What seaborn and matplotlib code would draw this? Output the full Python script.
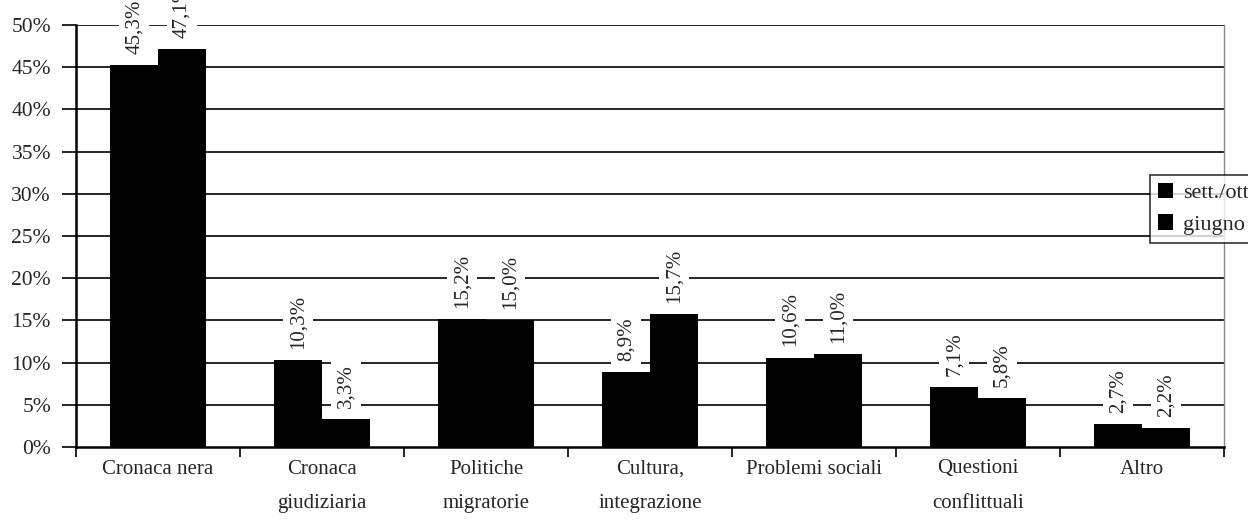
import matplotlib
matplotlib.use("Agg")
import matplotlib.pyplot as plt
import seaborn as sns
import pandas as pd
import numpy as np

categories = ["Cronaca nera", "Cronaca\ngiudiziaria", "Politiche\nmigratorie",
              "Cultura,\nintegrazione", "Problemi sociali", "Questioni\nconflittuali", "Altro"]
sett_ott = [45.3, 10.3, 15.2, 8.9, 10.6, 7.1, 2.7]
giugno = [47.1, 3.3, 15.0, 15.7, 11.0, 5.8, 2.2]
series_names = ["sett./ott.", "giugno"]
yticks = [0, 5, 10, 15, 20, 25, 30, 35, 40, 45, 50]

sns.set_style("white")
plt.rcParams['font.family'] = ['Liberation Serif', 'DejaVu Serif']

df = pd.DataFrame({
    "cat": categories * 2,
    "val": sett_ott + giugno,
    "period": [series_names[0]] * len(categories) + [series_names[1]] * len(categories),
})

fig = plt.figure(figsize=(12.48, 5.25), dpi=100)
ax = fig.add_axes([76/1248, 1 - 447/525, (1224 - 76)/1248, (447 - 25)/525])

sns.barplot(data=df, x="cat", y="val", hue="period", palette=["black", "black"],
            width=0.58, saturation=1, ax=ax, legend=True, gap=0, linewidth=0)

ax.set_ylim(0, 50)
ax.set_xlim(-0.5, len(categories) - 0.5)
ax.set_yticks(yticks)
ax.set_yticklabels([f"{v}%" for v in yticks], fontsize=15.5)
ax.set_xlabel("")
ax.set_ylabel("")
ax.set_axisbelow(True)
for v in yticks[1:]:
    ax.axhline(v, color="black", lw=1.2, zorder=0)

ax.tick_params(axis="y", direction="out", length=10, width=1.2, color="black", left=True, pad=8)
ax.set_xticks(range(len(categories)))
ax.set_xticklabels(categories, fontsize=15, va="top", linespacing=2.1)
ax.tick_params(axis="x", which="major", length=0, pad=9)
ax.set_xticks(np.arange(-0.5, len(categories), 1), minor=True)
ax.tick_params(axis="x", which="minor", direction="out", length=7, width=1.2, color="black", bottom=True)

for s in ["left", "bottom"]:
    ax.spines[s].set_color("black")
    ax.spines[s].set_linewidth(1.8)
ax.spines["top"].set_visible(False)
ax.spines["right"].set_color("#888888")
ax.spines["right"].set_linewidth(1)

# data labels
for container, vals in zip(ax.containers, [sett_ott, giugno]):
    for bar, v in zip(container, vals):
        x = bar.get_x() + bar.get_width() / 2
        ax.annotate(f"{v:.1f}%".replace(".", ","), (x, bar.get_height()),
                    xytext=(0, 8), textcoords="offset points", rotation=90,
                    ha="center", va="bottom", fontsize=15, annotation_clip=False,
                    bbox=dict(facecolor="white", edgecolor="none", pad=4))

leg = ax.legend(loc="upper left", bbox_to_anchor=(1150/1248, 1 - 175/525),
                bbox_transform=fig.transFigure, frameon=True, fancybox=False,
                edgecolor="black", fontsize=16, handlelength=0.7, handleheight=0.7,
                handletextpad=0.45, labelspacing=0.5, borderpad=0.35, borderaxespad=0)
leg.get_frame().set_linewidth(1.2)

fig.savefig("out.png", dpi=100, facecolor="white")
